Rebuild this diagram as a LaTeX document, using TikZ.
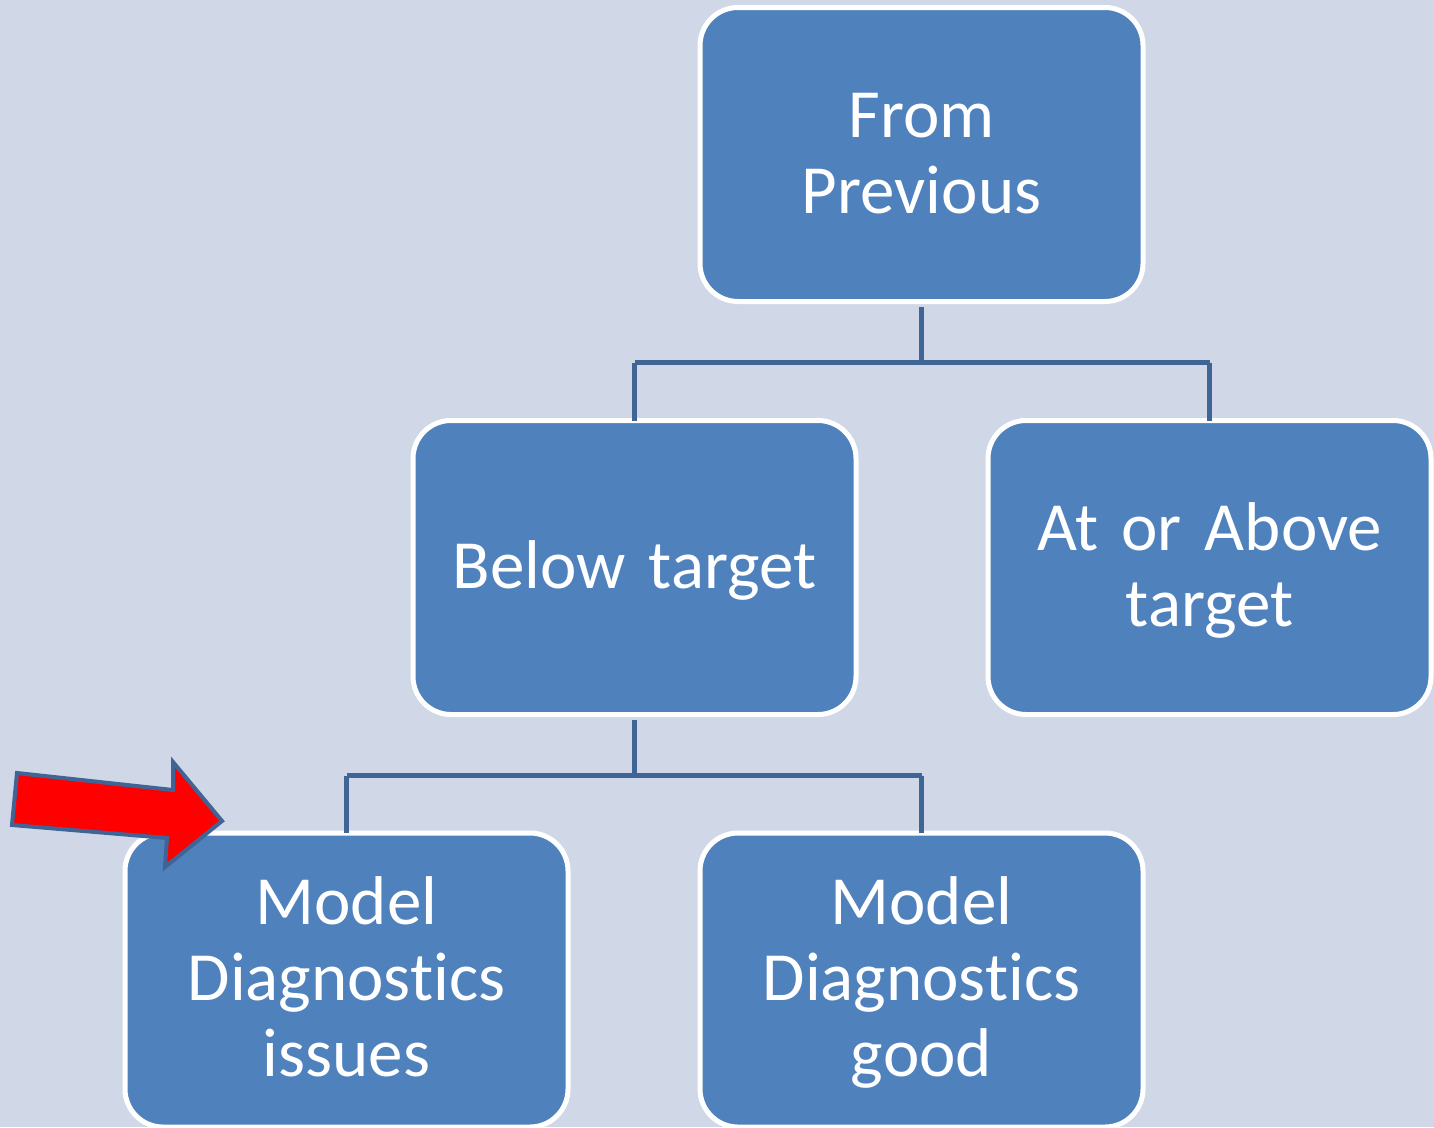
\documentclass[tikz,border=0pt]{standalone}
\usepackage{fontspec}
\setmainfont[Ligatures=NoCommon]{Carlito}
\definecolor{bg}{HTML}{D0D8E8}
\definecolor{boxfill}{HTML}{4F81BD}
\definecolor{conn}{HTML}{3F6495}
\newcommand{\boxfont}{\fontsize{69}{76}\selectfont\fontdimen2\font=9pt\relax\fontdimen3\font=0pt\relax\fontdimen4\font=0pt\relax}
\begin{document}
\begin{tikzpicture}[x=1pt,y=-1pt,
  box/.style={draw=white,line width=5pt,fill=boxfill,rounded corners=38pt,
    minimum width=443pt,minimum height=294pt,inner sep=0pt,
    text=white,align=center,text width=420pt,
    font=\boxfont,
    execute at begin node={\rule{0pt}{59pt}},
    execute at end node={\rule[-18pt]{0pt}{18pt}}},
  link/.style={draw=conn,line width=4.5pt}]
\fill[bg] (0,0) rectangle (1434,1127);
\useasboundingbox (0,0) rectangle (1434,1127);
\node[box] (top) at (921.5,154.5) {From\\Previous};
\node[box] (below) at (634.5,567.5) {Below target};
\node[box] (above) at (1209.5,567.5) {At or Above\\target};
\node[box] (issues) at (346.5,980) {Model\\Diagnostics\\issues};
\node[box] (good) at (921.5,980) {Model\\Diagnostics\\good};
\draw[link] ([yshift=-2.5pt]top.south) -- ++(0,56) coordinate (j1);
\draw[link] (below.north |- j1) -- (j1 -| above.north);
\draw[link] (below.north |- j1) -- ([yshift=-2.5pt]below.north);
\draw[link] (above.north |- j1) -- ([yshift=-2.5pt]above.north);
\draw[link] ([yshift=-2.5pt]below.south) -- ++(0,56) coordinate (j2);
\draw[link] (issues.north |- j2) -- (j2 -| good.north);
\draw[link] (issues.north |- j2) -- ([yshift=-2.5pt]issues.north);
\draw[link] (good.north |- j2) -- ([yshift=-2.5pt]good.north);
\draw[draw=conn,line width=4pt,fill=red,line join=miter]
  (17,773) -- (173,790) -- (173,762) -- (222,821) -- (165,867) -- (167,838) -- (12,825) -- cycle;
\end{tikzpicture}
\end{document}
